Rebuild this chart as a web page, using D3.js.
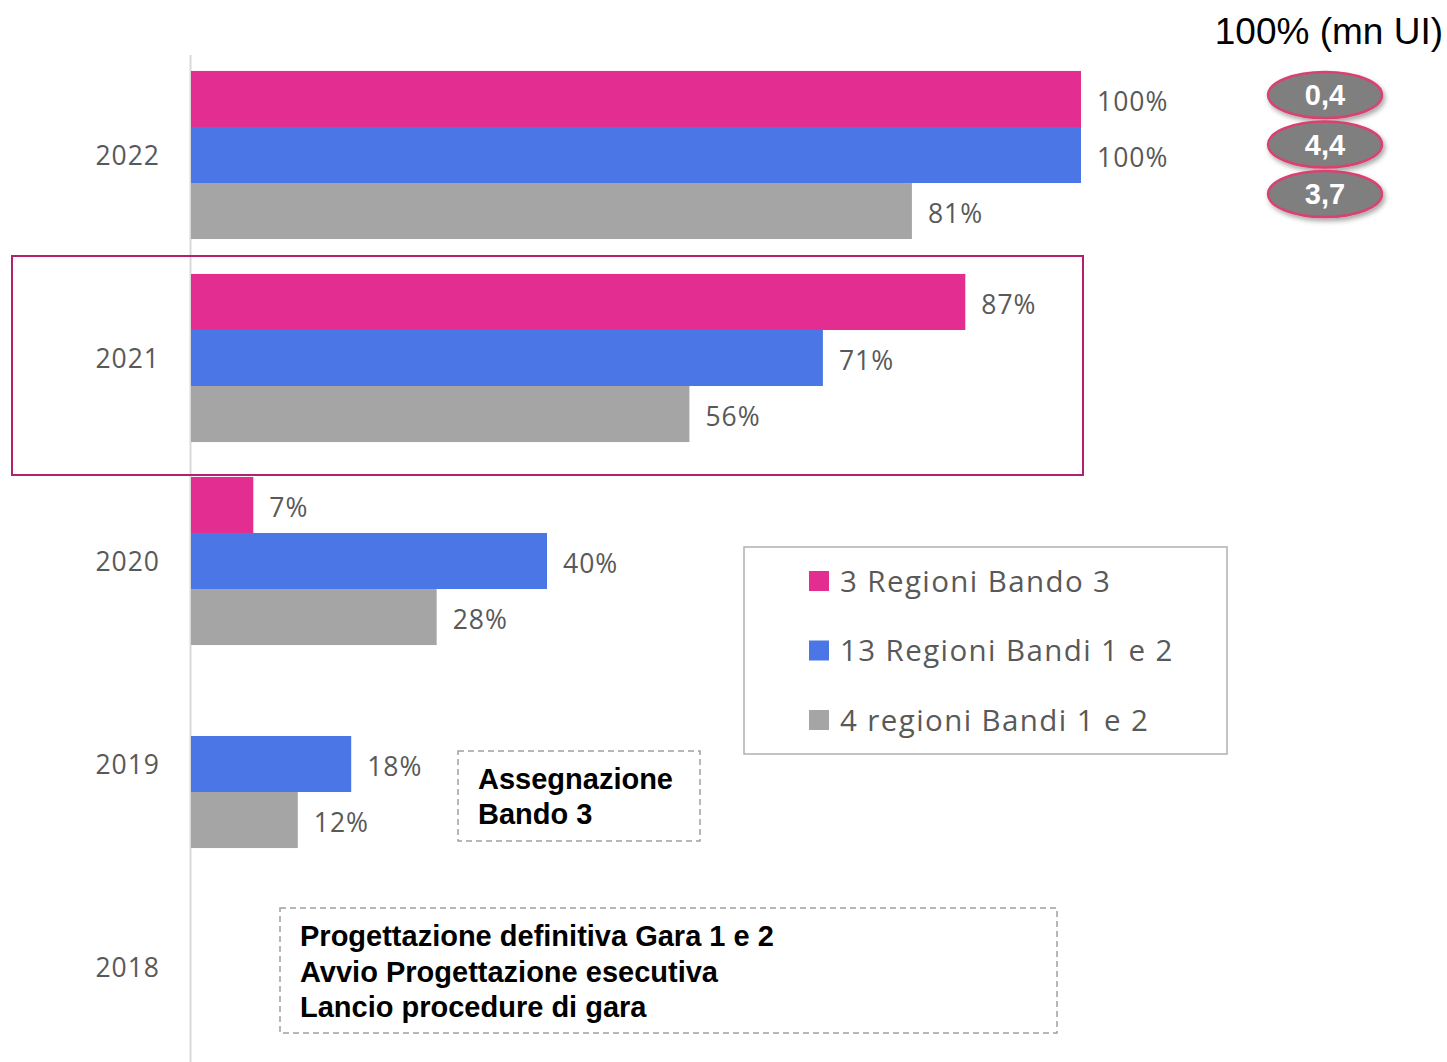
<!DOCTYPE html>
<html><head><meta charset="utf-8">
<script src="https://cdn.jsdelivr.net/npm/d3@7"></script>
<style>body{margin:0;background:#fff;} svg{display:block;}</style>
</head><body>
<script>
const years = ["2022","2021","2020","2019","2018"];
const seriesNames = ["3 Regioni Bando 3","13 Regioni Bandi 1 e 2","4 regioni Bandi 1 e 2"];
const seriesColors = ["#e32d91","#4a76e6","#a5a5a5"];
const pinkValues = [100, 87, 7, null, null];
const blueValues = [100, 71, 40, 18, null];
const grayValues = [81, 56, 27.6, 12, null];
const pinkLabels = ["100%","87%","7%",null,null];
const blueLabels = ["100%","71%","40%","18%",null];
const grayLabels = ["81%","56%","28%","12%",null];
const totalsTitle = "100% (mn UI)";
const totals = ["0,4","4,4","3,7"];
const note1 = ["Assegnazione","Bando 3"];
const note2 = ["Progettazione definitiva Gara 1 e 2","Avvio Progettazione esecutiva","Lancio procedure di gara"];

const W=1447,H=1062;
const svg=d3.select("body").append("svg").attr("width",W).attr("height",H);
const defs=svg.append("defs");
const f=defs.append("filter").attr("id","sh").attr("x","-30%").attr("y","-30%").attr("width","160%").attr("height","180%");
f.append("feDropShadow").attr("dx",2).attr("dy",3).attr("stdDeviation",2.5).attr("flood-color","#000").attr("flood-opacity",0.35);

const x=d3.scaleLinear().domain([0,100]).range([191,1081]);
const y=d3.scaleBand().domain(years).range([53.5,1068.5]).paddingInner(0.172).paddingOuter(0.086);
const ys=d3.scaleBand().domain([0,1,2]).range([0,y.bandwidth()]);

const valueSets=[pinkValues,blueValues,grayValues];
const labelSets=[pinkLabels,blueLabels,grayLabels];
const labelFont="'Open Sans', Lato, sans-serif";
const boldFont="'Liberation Sans', Arial, sans-serif";

// axis line
svg.append("line").attr("x1",190.5).attr("x2",190.5).attr("y1",55).attr("y2",1062).attr("stroke","#d9d9d9").attr("stroke-width",2);

// highlight box for 2021
svg.append("rect").attr("x",12).attr("y",256).attr("width",1071).attr("height",219)
  .attr("fill","none").attr("stroke","#b3206e").attr("stroke-width",2);

// bars
valueSets.forEach((vals,si)=>{
  const data=years.map((yr,i)=>({yr,v:vals[i],lab:labelSets[si][i]})).filter(d=>d.v!=null);
  svg.append("g").selectAll("rect").data(data).join("rect")
    .attr("x",x(0)).attr("y",d=>y(d.yr)+ys(si)).attr("width",d=>x(d.v)-x(0)).attr("height",ys.bandwidth())
    .attr("fill",seriesColors[si]);
  svg.append("g").selectAll("text").data(data).join("text")
    .attr("x",d=>x(d.v)+16).attr("y",d=>y(d.yr)+ys(si)+ys.bandwidth()/2+2)
    .attr("dy","0.36em").attr("font-family",labelFont).attr("font-size",26.5).attr("letter-spacing",1).attr("fill","#595959")
    .text(d=>d.lab);
});

// year labels
const yAxis=d3.axisLeft(y).tickSize(0).tickPadding(0);
const ga=svg.append("g").attr("transform","translate(160,0)").call(yAxis);
ga.select(".domain").remove();
ga.selectAll("text").attr("font-family",labelFont).attr("font-size",26.5).attr("letter-spacing",1).attr("fill","#595959").attr("dy","0.36em");

// legend
svg.append("rect").attr("x",744).attr("y",547).attr("width",483).attr("height",207).attr("fill","#fff").attr("stroke","#b0b0b0").attr("stroke-width",1.5);
const lg=svg.append("g").selectAll("g").data(seriesNames).join("g").attr("transform",(d,i)=>`translate(809,${581+i*69.5})`);
lg.append("rect").attr("x",0).attr("y",-10).attr("width",20).attr("height",20).attr("fill",(d,i)=>seriesColors[i]);
lg.append("text").attr("x",31).attr("dy","0.36em").attr("font-family",labelFont).attr("font-size",29.5).attr("letter-spacing",1.4).attr("fill","#595959").text(d=>d);

// notes
svg.append("rect").attr("x",458).attr("y",751).attr("width",242).attr("height",90).attr("fill","none").attr("stroke","#a0a0a0").attr("stroke-width",1.5).attr("stroke-dasharray","6,4");
svg.append("g").selectAll("text").data(note1).join("text").attr("x",478).attr("y",(d,i)=>789+i*35)
  .attr("font-family",boldFont).attr("font-weight","bold").attr("font-size",29).attr("fill","#000").text(d=>d);
svg.append("rect").attr("x",280).attr("y",908).attr("width",777).attr("height",125).attr("fill","none").attr("stroke","#a0a0a0").attr("stroke-width",1.5).attr("stroke-dasharray","6,4");
svg.append("g").selectAll("text").data(note2).join("text").attr("x",300).attr("y",(d,i)=>946+i*35.5)
  .attr("font-family",boldFont).attr("font-weight","bold").attr("font-size",29).attr("fill","#000").text(d=>d);

// totals
svg.append("text").attr("x",1443).attr("y",44).attr("text-anchor","end").attr("font-family",boldFont).attr("font-size",37).attr("fill","#000").text(totalsTitle);
const tg=svg.append("g").selectAll("g").data(totals).join("g").attr("transform",(d,i)=>`translate(1325,${95+i*49.5})`);
tg.append("ellipse").attr("rx",57).attr("ry",23).attr("fill","#7f7f7f").attr("stroke","#d9436f").attr("stroke-width",2.5).attr("filter","url(#sh)");
tg.append("text").attr("text-anchor","middle").attr("dy","0.36em").attr("font-family",boldFont).attr("font-weight","bold").attr("font-size",29).attr("fill","#fff").text(d=>d);
</script>
</body></html>
